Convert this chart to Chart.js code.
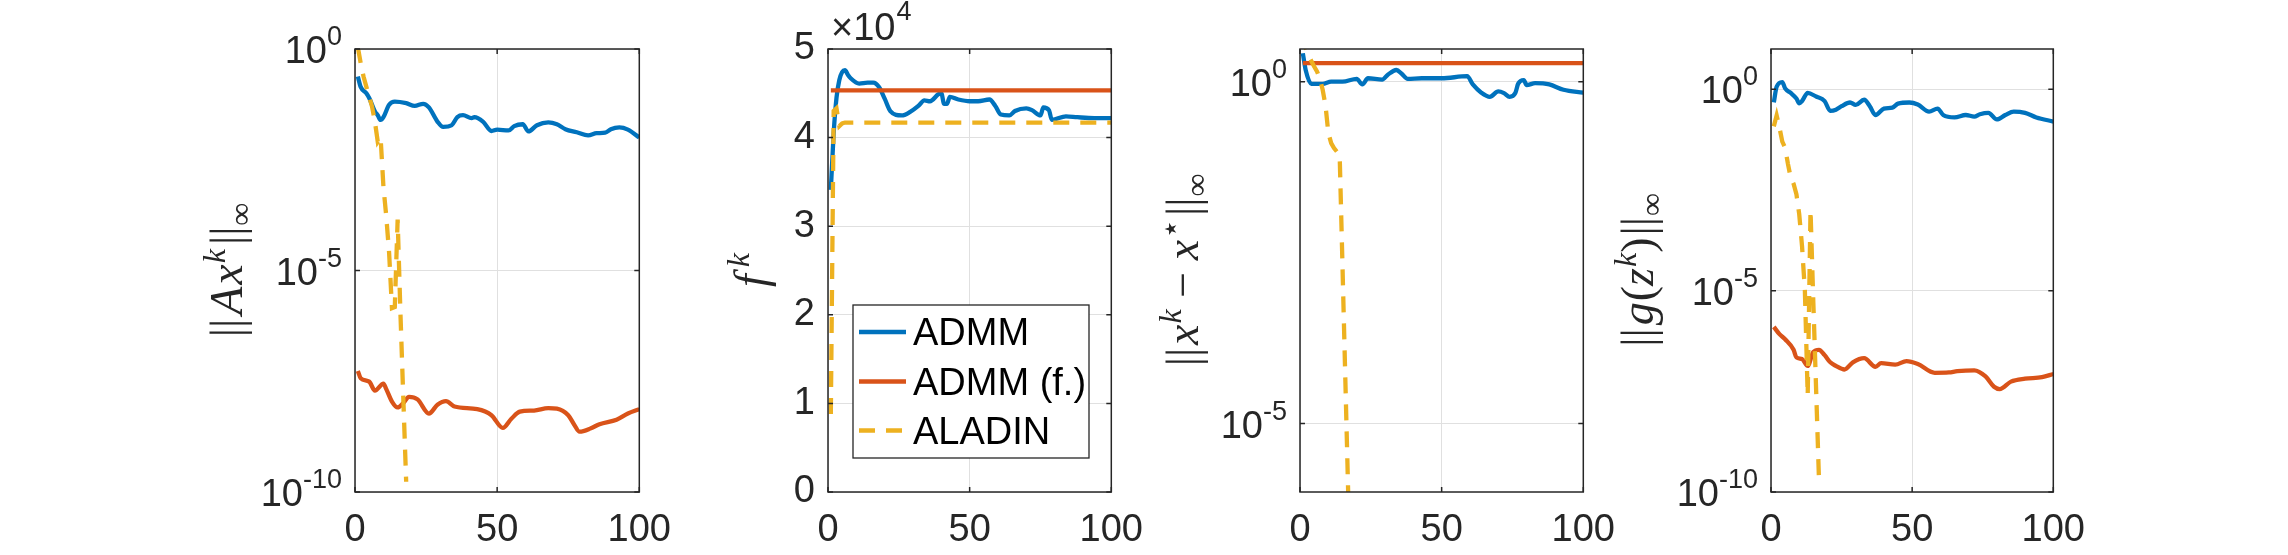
<!DOCTYPE html>
<html>
<head>
<meta charset="utf-8">
<title>ADMM vs ALADIN</title>
<script src="https://cdn.jsdelivr.net/npm/chart.js@4.4.1/dist/chart.umd.min.js"></script>
<style>
  html, body { margin: 0; padding: 0; background: #fff; }
  body { width: 2288px; height: 555px; position: relative; overflow: hidden; }
  canvas { position: absolute; top: 0; }
</style>
</head>
<body>
<canvas id="panelA"></canvas>
<canvas id="panelF"></canvas>
<canvas id="panelX"></canvas>
<canvas id="panelG"></canvas>
<script>
// ---- data (iteration k, value) ----
const seriesNames = ["ADMM", "ADMM (f.)", "ALADIN"];
const iterTicks = [0, 50, 100];

// panel 1: ||A x^k||_inf
const admmIterA = [1, 2, 4, 5, 7, 8, 9, 10, 12, 14, 18, 21, 24, 26, 29, 31, 34, 36, 38, 41, 42, 45, 48, 50, 54, 56, 59, 61, 64, 68, 71, 74, 78, 82, 85, 88, 90, 93, 96, 100];
const admmResA = [2.4e-1, 1.4e-1, 1.0e-1, 7.8e-2, 3.9e-2, 3.2e-2, 2.5e-2, 2.9e-2, 5.5e-2, 6.5e-2, 6.0e-2, 5.2e-2, 5.8e-2, 4.8e-2, 2.3e-2, 1.74e-2, 1.9e-2, 2.9e-2, 3.2e-2, 2.75e-2, 2.9e-2, 2.3e-2, 1.41e-2, 1.51e-2, 1.45e-2, 1.82e-2, 2.0e-2, 1.38e-2, 1.9e-2, 2.2e-2, 2.0e-2, 1.55e-2, 1.32e-2, 1.12e-2, 1.26e-2, 1.29e-2, 1.55e-2, 1.7e-2, 1.51e-2, 1.0e-2];
const fixedIterA = [1, 2, 5, 7, 10, 11, 13, 15, 17, 19, 22, 26, 29, 32, 35, 43, 48, 52, 55, 58, 63, 68, 71, 75, 77, 79, 83, 86, 92, 96, 100];
const fixedResA = [5.4e-8, 3.7e-8, 3.1e-8, 1.95e-8, 2.8e-8, 2.1e-8, 1.1e-8, 8.1e-9, 1.02e-8, 1.41e-8, 1.23e-8, 5.9e-9, 9.3e-9, 1.12e-8, 8.5e-9, 7.4e-9, 5.4e-9, 2.8e-9, 4.5e-9, 6.5e-9, 6.9e-9, 7.8e-9, 7.6e-9, 5.4e-9, 3.4e-9, 2.3e-9, 2.75e-9, 3.4e-9, 4.3e-9, 5.9e-9, 7.4e-9];
const aladinIterA = [1, 2, 3, 4, 5, 6, 7, 8, 9, 10, 11, 12, 13, 14, 15, 16, 17, 18];
const aladinResA = [1.1, 4.8e-1, 2.4e-1, 1.4e-1, 8.3e-2, 5.0e-2, 2.3e-2, 8.1e-3, 1.02e-2, 7.8e-4, 1.66e-4, 2.5e-5, 1.41e-6, 1.5e-6, 1.41e-4, 1.0e-6, 1.26e-8, 1.7e-10];
const logTicksA = [1e-10, 1e-5, 1];
const expLabelsA = ["-10", "-5", "0"];

// panel 2: f^k
const admmIterF = [1, 2, 3, 4, 5, 6, 7, 8, 11, 14, 16, 18, 20, 22, 26, 29, 32, 34, 36, 39, 40, 41, 42, 43, 46, 50, 53, 57, 59, 61, 64, 66, 70, 72, 75, 76, 78, 79, 84, 88, 94, 100];
const admmObj = [34100, 40500, 44500, 46500, 47400, 47600, 47100, 46700, 46100, 46200, 46200, 45700, 44400, 43000, 42500, 42900, 43600, 44200, 44100, 44900, 45000, 43800, 43800, 44600, 44300, 44100, 44100, 44300, 43600, 42600, 42500, 43000, 43300, 43100, 42500, 43400, 43100, 42000, 42400, 42300, 42200, 42200];
const fixedIterF = [1, 100];
const fixedObj = [45330, 45330];
const aladinIterF = [1, 2, 3, 4, 5, 6, 100];
const aladinObj = [8800, 43000, 43300, 41300, 41600, 41700, 41700];
const objTicks = [0, 10000, 20000, 30000, 40000, 50000];
const objTickLabels = ["0", "1", "2", "3", "4", "5"];

// panel 3: ||x^k - x*||_inf
const admmIterX = [1, 2, 4, 6, 8, 11, 15, 20, 22, 24, 29, 31, 34, 36, 38, 43, 50, 59, 61, 64, 67, 70, 72, 74, 76, 77, 79, 80, 83, 88, 93, 100];
const admmErrX = [2.6, 1.48, 0.93, 0.93, 0.93, 1.0, 1.0, 1.1, 0.91, 1.12, 1.07, 1.26, 1.48, 1.29, 1.1, 1.12, 1.12, 1.2, 0.91, 0.69, 0.6, 0.72, 0.68, 0.6, 0.68, 0.93, 1.05, 0.89, 0.95, 0.91, 0.76, 0.69];
const fixedIterX = [1, 100];
const fixedErrX = [1.86, 1.86];
const aladinIterX = [1, 2, 3, 4, 5, 6, 7, 8, 9, 10, 11, 12, 13, 14, 15, 16, 17];
const aladinErrX = [5.0, 3.1, 2.45, 2.0, 1.66, 1.41, 1.12, 0.76, 0.45, 0.178, 0.126, 0.107, 0.095, 0.085, 2.0e-3, 4.5e-5, 1.0e-6];
const logTicksX = [1e-5, 1];
const expLabelsX = ["-5", "0"];

// panel 4: ||g(z^k)||_inf
const admmIterG = [1, 2, 4, 5, 7, 9, 10, 11, 13, 16, 19, 21, 23, 25, 28, 30, 33, 35, 37, 40, 43, 45, 49, 52, 56, 59, 61, 65, 69, 72, 74, 77, 80, 83, 86, 90, 94, 100];
const admmResG = [0.47, 1.15, 1.51, 1.05, 0.81, 0.59, 0.45, 0.51, 0.81, 0.66, 0.51, 0.29, 0.31, 0.38, 0.47, 0.41, 0.55, 0.38, 0.23, 0.33, 0.35, 0.44, 0.47, 0.42, 0.28, 0.33, 0.23, 0.2, 0.23, 0.21, 0.24, 0.26, 0.178, 0.23, 0.28, 0.26, 0.2, 0.158];
const fixedIterG = [1, 3, 5, 8, 9, 11, 13, 15, 17, 19, 21, 23, 26, 29, 33, 37, 39, 44, 48, 52, 58, 63, 66, 72, 76, 79, 81, 85, 90, 96, 100];
const fixedResG = [1.26e-6, 8.3e-7, 6.2e-7, 3.4e-7, 2.2e-7, 2.0e-7, 1.35e-7, 3.0e-7, 3.4e-7, 2.5e-7, 1.66e-7, 1.35e-7, 1.1e-7, 1.66e-7, 2.1e-7, 1.29e-7, 1.58e-7, 1.45e-7, 1.78e-7, 1.51e-7, 9.1e-8, 9.3e-8, 1.0e-7, 1.05e-7, 7.4e-8, 4.1e-8, 3.6e-8, 5.5e-8, 6.5e-8, 7.1e-8, 8.5e-8];
const aladinIterG = [1, 2, 3, 4, 5, 6, 7, 8, 9, 10, 11, 12, 13, 14, 15, 16, 17];
const aladinResG = [0.12, 0.224, 0.112, 0.05, 0.0355, 0.0141, 6.3e-3, 4.5e-3, 2.5e-3, 7.9e-4, 1.26e-4, 1.0e-5, 2.5e-8, 1.0e-3, 5.0e-6, 3.2e-8, 2.0e-10];
const logTicksG = [1e-10, 1e-5, 1];
const expLabelsG = ["-10", "-5", "0"];

// ---- look ----
const SANS = "'Liberation Sans', Arial, Helvetica, sans-serif";
const SERIF = "'Liberation Serif', 'DejaVu Serif', 'Times New Roman', serif";
const INK = "#262626";
const GRID = "#e0e0e0";
const COLORS = { admm: "#0072BD", fixed: "#D95319", aladin: "#EDB120" };
const DASH = [16, 11];
const LINE_W = 4.3;
const LEFT_GUTTER = 200;
const RIGHT_GUTTER = 45;
const PLOT_TOP = 49;
const PLOT_BOTTOM = 492;
const H = 555;
const TITLE_SIZE = 46;

function pts(xs, ys) {
  return xs.map((x, i) => ({ x: x, y: ys[i] }));
}

function series(name, xs, ys, kind) {
  const ds = {
    label: name,
    data: pts(xs, ys),
    showLine: true,
    pointRadius: 0,
    borderWidth: LINE_W,
    borderColor: COLORS[kind],
    backgroundColor: COLORS[kind],
    fill: false,
    clip: 0,
  };
  if (kind === "aladin") {
    ds.borderDash = DASH;
    ds.tension = 0;
  } else {
    ds.cubicInterpolationMode = "monotone";
  }
  return ds;
}

function iterScale() {
  return {
    type: "linear",
    min: 0,
    max: 100,
    afterBuildTicks: (s) => { s.ticks = iterTicks.map((v) => ({ value: v })); },
    afterFit: (s) => { s.height = H - PLOT_BOTTOM; },
    grid: { color: GRID, drawTicks: false },
    border: { display: false },
    ticks: { color: INK, font: { family: SANS, size: 38 }, padding: 16, maxRotation: 0, autoSkip: false },
  };
}

function logScale(min, max, ticks) {
  return {
    type: "logarithmic",
    min: min,
    max: max,
    afterBuildTicks: (s) => { s.ticks = ticks.map((v) => ({ value: v })); },
    afterFit: (s) => { s.width = LEFT_GUTTER; },
    grid: { color: GRID, drawTicks: false },
    border: { display: false },
    ticks: { display: false },
  };
}

function objScale() {
  return {
    type: "linear",
    min: 0,
    max: 50000,
    afterBuildTicks: (s) => { s.ticks = objTicks.map((v) => ({ value: v })); },
    afterFit: (s) => { s.width = LEFT_GUTTER; },
    grid: { color: GRID, drawTicks: false },
    border: { display: false },
    ticks: {
      color: INK,
      font: { family: SANS, size: 38 },
      padding: 13,
      callback: (v) => objTickLabels[objTicks.indexOf(v)],
    },
  };
}

// rotated math-like axis label built from text pieces (italic / sup / sub)
function drawMath(ctx, segs, bx, cy, size) {
  const parts = segs.map((s) => {
    const sz = s.pos ? Math.round(size * 0.7) : size;
    const font = (s.it ? "italic " : "") + sz + "px " + SERIF;
    ctx.font = font;
    const dy = s.pos === "sup" ? -0.36 * size : s.pos === "sub" ? 0.2 * size : 0;
    return { t: s.t, font: font, w: ctx.measureText(s.t).width + (s.gap || 0), dy: dy };
  });
  const total = parts.reduce((a, p) => a + p.w, 0);
  ctx.save();
  ctx.translate(bx, cy);
  ctx.rotate(-Math.PI / 2);
  ctx.fillStyle = INK;
  ctx.textAlign = "left";
  ctx.textBaseline = "alphabetic";
  let x = -total / 2;
  parts.forEach((p) => {
    ctx.font = p.font;
    ctx.fillText(p.t, x, p.dy);
    x += p.w;
  });
  ctx.restore();
}

function drawPowerLabels(chart, values, exps) {
  const ctx = chart.ctx;
  const y = chart.scales.y;
  const right = chart.chartArea.left - 13;
  ctx.save();
  ctx.fillStyle = INK;
  ctx.textAlign = "left";
  ctx.textBaseline = "alphabetic";
  values.forEach((v, i) => {
    const p = y.getPixelForValue(v);
    ctx.font = "27px " + SANS;
    const ws = ctx.measureText(exps[i]).width;
    ctx.font = "38px " + SANS;
    const wb = ctx.measureText("10").width;
    ctx.fillText("10", right - ws - wb, p + 14);
    ctx.font = "27px " + SANS;
    ctx.fillText(exps[i], right - ws, p - 4);
  });
  ctx.restore();
}

function drawFrame(chart) {
  const ctx = chart.ctx;
  const a = chart.chartArea;
  ctx.save();
  ctx.strokeStyle = INK;
  ctx.lineWidth = 1.5;
  ctx.beginPath();
  chart.scales.x.ticks.forEach((t) => {
    const px = chart.scales.x.getPixelForValue(t.value);
    ctx.moveTo(px, a.bottom); ctx.lineTo(px, a.bottom - 5);
    ctx.moveTo(px, a.top); ctx.lineTo(px, a.top + 5);
  });
  chart.scales.y.ticks.forEach((t) => {
    const py = chart.scales.y.getPixelForValue(t.value);
    ctx.moveTo(a.left, py); ctx.lineTo(a.left + 5, py);
    ctx.moveTo(a.right, py); ctx.lineTo(a.right - 5, py);
  });
  ctx.stroke();
  ctx.strokeRect(a.left, a.top, a.right - a.left, a.bottom - a.top);
  ctx.restore();
}

function drawLegend(chart, offset) {
  const ctx = chart.ctx;
  const bx = 853 - offset, by = 305, bw = 236, bh = 153;
  const rows = [332, 381.5, 430.5];
  const kinds = ["admm", "fixed", "aladin"];
  ctx.save();
  ctx.fillStyle = "#fff";
  ctx.fillRect(bx, by, bw, bh);
  ctx.strokeStyle = INK;
  ctx.lineWidth = 1.3;
  ctx.strokeRect(bx, by, bw, bh);
  rows.forEach((ry, i) => {
    ctx.beginPath();
    ctx.strokeStyle = COLORS[kinds[i]];
    ctx.lineWidth = LINE_W;
    ctx.setLineDash(kinds[i] === "aladin" ? DASH : []);
    ctx.moveTo(bx + 6, ry);
    ctx.lineTo(bx + 53, ry);
    ctx.stroke();
    ctx.setLineDash([]);
    ctx.fillStyle = "#000";
    ctx.font = "38px " + SANS;
    ctx.textAlign = "left";
    ctx.textBaseline = "alphabetic";
    ctx.fillText(seriesNames[i], bx + 60, ry + 13);
  });
  ctx.restore();
}

function drawMultiplier(chart, offset) {
  const ctx = chart.ctx;
  ctx.save();
  ctx.fillStyle = INK;
  ctx.textAlign = "left";
  ctx.textBaseline = "alphabetic";
  ctx.font = "38px " + SANS;
  const w = ctx.measureText("\u00d710").width;
  ctx.fillText("\u00d710", 831 - offset, 40);
  ctx.font = "27px " + SANS;
  ctx.fillText("4", 831 - offset + w + 1, 20);
  ctx.restore();
}

function makePanel(id, plotLeft, plotRight, yScale, datasets, extra) {
  const canvas = document.getElementById(id);
  const offset = plotLeft - LEFT_GUTTER;
  canvas.width = plotRight - plotLeft + LEFT_GUTTER + RIGHT_GUTTER;
  canvas.height = H;
  canvas.style.left = offset + "px";

  const framePlugin = {
    id: "frame_" + id,
    afterDraw(chart) {
      drawFrame(chart);
      extra(chart, offset);
    },
  };

  return new Chart(canvas, {
    type: "scatter",
    data: { datasets: datasets },
    options: {
      responsive: false,
      animation: false,
      devicePixelRatio: 1,
      layout: { padding: { left: 0, right: RIGHT_GUTTER, top: PLOT_TOP, bottom: 0 } },
      plugins: { legend: { display: false }, tooltip: { enabled: false } },
      scales: { x: iterScale(), y: yScale },
    },
    plugins: [framePlugin],
  });
}

document.addEventListener("DOMContentLoaded", () => {
  makePanel("panelA", 355, 642, logScale(1e-10, 1, logTicksA), [
    series(seriesNames[2], aladinIterA, aladinResA, "aladin"),
    series(seriesNames[1], fixedIterA, fixedResA, "fixed"),
    series(seriesNames[0], admmIterA, admmResA, "admm"),
  ], (chart, offset) => {
    drawPowerLabels(chart, logTicksA, expLabelsA);
    drawMath(chart.ctx, [
      { t: "||", gap: 4 }, { t: "A", it: 1, gap: 2 }, { t: "x", it: 1, gap: 1 },
      { t: "k", it: 1, pos: "sup", gap: 4 }, { t: "||", gap: 1 }, { t: "\u221e", pos: "sub" },
    ], 242 - offset, 270, TITLE_SIZE);
  });

  makePanel("panelF", 828, 1114, objScale(), [
    series(seriesNames[2], aladinIterF, aladinObj, "aladin"),
    series(seriesNames[1], fixedIterF, fixedObj, "fixed"),
    series(seriesNames[0], admmIterF, admmObj, "admm"),
  ], (chart, offset) => {
    drawMultiplier(chart, offset);
    drawMath(chart.ctx, [{ t: "f", it: 1, gap: 7 }, { t: "k", it: 1, pos: "sup" }], 766 - offset, 270, TITLE_SIZE);
    drawLegend(chart, offset);
  });

  makePanel("panelX", 1300, 1586, logScale(1e-6, 3, logTicksX), [
    series(seriesNames[2], aladinIterX, aladinErrX, "aladin"),
    series(seriesNames[1], fixedIterX, fixedErrX, "fixed"),
    series(seriesNames[0], admmIterX, admmErrX, "admm"),
  ], (chart, offset) => {
    drawPowerLabels(chart, logTicksX, expLabelsX);
    drawMath(chart.ctx, [
      { t: "||", gap: 3 }, { t: "x", it: 1, gap: 1 }, { t: "k", it: 1, pos: "sup" }, { t: " \u2212 " },
      { t: "x", it: 1, gap: 1 }, { t: "\u22c6", pos: "sup", gap: 3 }, { t: "||", gap: 1 }, { t: "\u221e", pos: "sub" },
    ], 1198 - offset, 270, TITLE_SIZE);
  });

  makePanel("panelG", 1771, 2056, logScale(1e-10, 10, logTicksG), [
    series(seriesNames[2], aladinIterG, aladinResG, "aladin"),
    series(seriesNames[1], fixedIterG, fixedResG, "fixed"),
    series(seriesNames[0], admmIterG, admmResG, "admm"),
  ], (chart, offset) => {
    drawPowerLabels(chart, logTicksG, expLabelsG);
    drawMath(chart.ctx, [
      { t: "||", gap: 3 }, { t: "g", it: 1, gap: 1 }, { t: "(" }, { t: "z", it: 1, gap: 1 },
      { t: "k", it: 1, pos: "sup" }, { t: ")", gap: 2 }, { t: "||", gap: 1 }, { t: "\u221e", pos: "sub" },
    ], 1653 - offset, 270, TITLE_SIZE);
  });
});
</script>
</body>
</html>
